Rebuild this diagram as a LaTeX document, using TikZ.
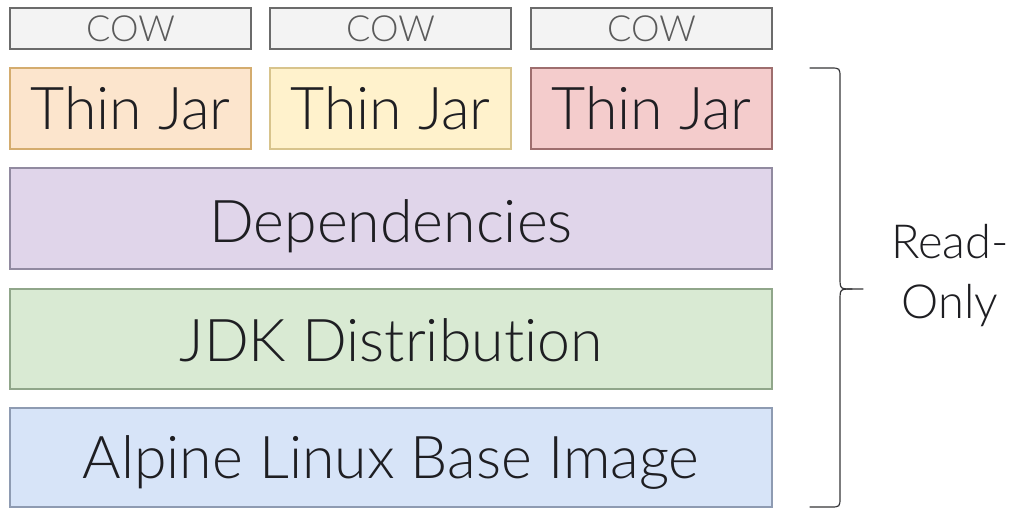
\documentclass[tikz,border=0pt]{standalone}
\usepackage{fontspec}
\setmainfont{Lato}[Ligatures={NoCommon,NoRare}]
\newfontfamily\lightfont{Lato Light}[Ligatures={NoCommon,NoRare}]
\definecolor{txt}{HTML}{1E1E22}
\definecolor{cowfill}{HTML}{F3F3F3}
\definecolor{cowdraw}{HTML}{6B6B6B}
\definecolor{cowtxt}{HTML}{5A5A5A}
\definecolor{jaroneF}{HTML}{FCE5CD}
\definecolor{jaroneD}{HTML}{D4AC6E}
\definecolor{jartwoF}{HTML}{FFF2CC}
\definecolor{jartwoD}{HTML}{D8C48C}
\definecolor{jarthrF}{HTML}{F4CCCC}
\definecolor{jarthrD}{HTML}{9E6E6E}
\definecolor{depF}{HTML}{E0D5EA}
\definecolor{depD}{HTML}{918AA0}
\definecolor{jdkF}{HTML}{D9EAD3}
\definecolor{jdkD}{HTML}{90A68A}
\definecolor{alpF}{HTML}{D7E4F8}
\definecolor{alpD}{HTML}{8E9BB2}
\tikzset{
  layer/.style={draw, line width=1.4pt, inner sep=0pt, outer sep=0pt, text=txt},
  cowbox/.style={layer, fill=cowfill, draw=cowdraw, text=cowtxt, font=\lightfont\fontsize{36}{36}\selectfont},
  jarbox/.style={layer, font=\lightfont\fontsize{59}{59}\selectfont},
  bigbox/.style={layer, minimum width=762pt},
  biglabel/.style={inner sep=0pt, text=txt, font=\lightfont\fontsize{59}{59}\selectfont},
  bracepath/.style={draw=txt!90, line width=1.2pt, line cap=round, line join=round}
}
\begin{document}
\begin{tikzpicture}[x=1pt,y=-1pt]
\useasboundingbox (0,0) rectangle (1023,509);
% COW boxes
\node[cowbox, minimum width=241pt, minimum height=41pt] (cowa) at (130.5,28.5) {COW};
\node[cowbox, minimum width=241pt, minimum height=41pt] (cowb) at (390.5,28.5) {COW};
\node[cowbox, minimum width=241pt, minimum height=41pt] (cowc) at (651.5,28.5) {COW};
% Thin jars
\node[jarbox, fill=jaroneF, draw=jaroneD, minimum width=241pt, minimum height=81pt] (jara) at (130.5,108.5) {Thin Jar};
\node[jarbox, fill=jartwoF, draw=jartwoD, minimum width=241pt, minimum height=81pt] (jarb) at (390.5,108.5) {Thin Jar};
\node[jarbox, fill=jarthrF, draw=jarthrD, minimum width=241pt, minimum height=81pt] (jarc) at (651.5,108.5) {Thin Jar};
% big layers
\node[bigbox, fill=depF, draw=depD, minimum height=101pt] (dep) at (391,218.5) {};
\node[biglabel] (deptext) at ([yshift=-8pt]dep.center) {Dependencies};
\node[bigbox, fill=jdkF, draw=jdkD, minimum height=100pt] (jdk) at (391,339) {};
\node[biglabel] (jdktext) at ([yshift=-1pt]jdk.center) {JDK Distribution};
\node[bigbox, fill=alpF, draw=alpD, minimum height=99pt] (alp) at (391,457.5) {};
\node[biglabel] (alptext) at ([yshift=-5pt]alp.center) {Alpine Linux Base Image};
% brace
\coordinate (btop) at (810,68);
\coordinate (bmid) at (863,289);
\coordinate (bbot) at (810,507);
\draw[bracepath] (btop) -- (830,68) .. controls (840,68) .. (840,78) -- (840,277)
  .. controls (840,289) .. (852,289) -- (bmid);
\draw[bracepath] (bbot) -- (830,507) .. controls (840,507) .. (840,497) -- (840,301)
  .. controls (840,289) .. (852,289);
\node[text=txt, font=\lightfont\fontsize{47}{60}\selectfont, align=center, inner sep=0pt] (ro) at (950,276) {Read-\\Only};
\end{tikzpicture}
\end{document}
